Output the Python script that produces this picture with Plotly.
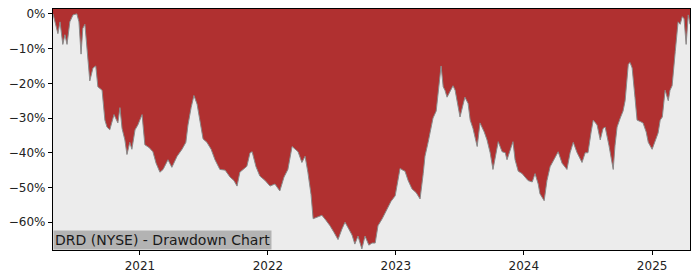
import plotly.graph_objects as go

dates = [
    "2020-04-28", "2020-05-03", "2020-05-12", "2020-05-18", "2020-05-26", "2020-06-01", "2020-06-07",
    "2020-06-15", "2020-06-24", "2020-07-05", "2020-07-11", "2020-07-17", "2020-07-22", "2020-07-28",
    "2020-08-03", "2020-08-11", "2020-08-20", "2020-08-28", "2020-09-03", "2020-09-15", "2020-09-23",
    "2020-09-29", "2020-10-07", "2020-10-19", "2020-10-30", "2020-11-05", "2020-11-11", "2020-11-19",
    "2020-11-25", "2020-12-03", "2020-12-09", "2020-12-18", "2020-12-26", "2021-01-07", "2021-01-15",
    "2021-01-27", "2021-02-07", "2021-02-16", "2021-02-27", "2021-03-08", "2021-03-22", "2021-04-02",
    "2021-04-17", "2021-05-01", "2021-05-12", "2021-05-18", "2021-05-27", "2021-06-04", "2021-06-13",
    "2021-06-21", "2021-06-30", "2021-07-11", "2021-07-23", "2021-08-03", "2021-08-17", "2021-09-01",
    "2021-09-15", "2021-09-26", "2021-10-05", "2021-10-13", "2021-10-25", "2021-11-02", "2021-11-11",
    "2021-11-17", "2021-11-28", "2021-12-09", "2021-12-24", "2022-01-07", "2022-01-21", "2022-02-04",
    "2022-02-16", "2022-02-27", "2022-03-11", "2022-03-19", "2022-03-28", "2022-04-08", "2022-04-17",
    "2022-04-25", "2022-05-04", "2022-05-10", "2022-05-21", "2022-06-04", "2022-06-16", "2022-06-27",
    "2022-07-09", "2022-07-20", "2022-07-31", "2022-08-09", "2022-08-20", "2022-08-29", "2022-09-06",
    "2022-09-15", "2022-09-26", "2022-10-05", "2022-10-16", "2022-10-25", "2022-11-03", "2022-11-11",
    "2022-11-23", "2022-12-07", "2022-12-18", "2022-12-30", "2023-01-07", "2023-01-13", "2023-01-21",
    "2023-01-27", "2023-02-05", "2023-02-16", "2023-02-28", "2023-03-11", "2023-03-20", "2023-03-25",
    "2023-04-03", "2023-04-09", "2023-04-17", "2023-04-26", "2023-05-01", "2023-05-10", "2023-05-16",
    "2023-05-21", "2023-05-27", "2023-06-05", "2023-06-13", "2023-06-19", "2023-06-25", "2023-07-03",
    "2023-07-12", "2023-07-17", "2023-07-26", "2023-08-01", "2023-08-09", "2023-08-21", "2023-08-29",
    "2023-09-10", "2023-09-18", "2023-09-27", "2023-10-05", "2023-10-14", "2023-10-20", "2023-10-31",
    "2023-11-09", "2023-11-14", "2023-11-23", "2023-12-01", "2023-12-07", "2023-12-16", "2023-12-27",
    "2024-01-05", "2024-01-13", "2024-01-25", "2024-02-02", "2024-02-11", "2024-02-16", "2024-02-28",
    "2024-03-07", "2024-03-16", "2024-03-27", "2024-04-08", "2024-04-19", "2024-05-03", "2024-05-12",
    "2024-05-21", "2024-06-01", "2024-06-15", "2024-06-24", "2024-07-02", "2024-07-11", "2024-07-17",
    "2024-07-28", "2024-08-06", "2024-08-14", "2024-08-20", "2024-08-31", "2024-09-12", "2024-09-17",
    "2024-09-23", "2024-10-02", "2024-10-10", "2024-10-16", "2024-10-25", "2024-10-30", "2024-11-05",
    "2024-11-13", "2024-11-19", "2024-11-28", "2024-12-06", "2024-12-15", "2024-12-21", "2025-01-01",
    "2025-01-10", "2025-01-18", "2025-01-24", "2025-01-30", "2025-02-07", "2025-02-16", "2025-02-21",
    "2025-02-27", "2025-03-08", "2025-03-16", "2025-03-22", "2025-03-28", "2025-04-02", "2025-04-08",
    "2025-04-14", "2025-04-19",
]

drawdown = [
    0, -2.3, -5.7, -2.3, -8.8, -6, -8.8,
    -2.3, -0.3, 0, -2.3, -11.6, -4.2, -3,
    -10.8, -19.3, -15.6, -15, -21, -22, -30.6,
    -32.6, -33.4, -29, -31.4, -27, -33, -36.3,
    -40.5, -37, -39, -33.4, -32, -29, -37.7,
    -38.5, -39.7, -43, -45.6, -44.8, -42, -44.2,
    -41, -39, -37, -32, -27, -23.5, -26,
    -30.6, -36, -37, -39, -42, -44.8, -45,
    -47, -48, -49.6, -45.6, -44.5, -43.9, -40,
    -39.7, -44, -46.7, -48, -49.6, -49, -51,
    -47, -44.8, -38.2, -39, -39.7, -42.8, -41,
    -45.6, -52, -59, -58.5, -58, -59.5, -61,
    -63, -65, -62, -60, -62, -63.7, -66.3,
    -64, -67.7, -64, -66.6, -66, -66, -61,
    -59, -56, -54, -52.4, -48, -44.5, -45,
    -45.3, -48, -50.4, -51.5, -53.3, -46, -41,
    -37, -34.3, -30, -28, -23, -15, -21,
    -22, -24, -22, -20.7, -22, -25, -29.7,
    -26, -24, -25.8, -30.6, -33, -38.2, -31.4,
    -34, -36.3, -40, -44.8, -40, -36.8, -39.7,
    -40, -42, -39, -36.8, -42, -45.3, -46,
    -47, -48, -48.4, -46, -49, -51.8, -53.8,
    -48, -44, -42, -39.7, -43, -44.8, -40,
    -37, -40, -42.8, -40, -40, -34, -30.6,
    -32, -36.3, -33, -32.6, -38, -44.8, -38,
    -32.6, -30, -28, -25, -14.5, -14, -15.6,
    -24, -30.6, -31, -31.4, -34, -37, -39,
    -36.3, -34.3, -30.6, -29.7, -22, -25, -22,
    -20.7, -10.8, -2.3, -3, -0.8, -1.4, -8.8,
    -0.3, -3,
]

y_tick_vals = [0, -10, -20, -30, -40, -50, -60]
y_tick_text = ["0%", "\u221210%", "\u221220%", "\u221230%", "\u221240%", "\u221250%", "\u221260%"]
x_tick_vals = ["2021-01-01", "2022-01-01", "2023-01-01", "2024-01-01", "2025-01-01"]
x_tick_text = ["2021", "2022", "2023", "2024", "2025"]
title_text = "DRD (NYSE) - Drawdown Chart"

Y_TOP = 1.4
Y_BOTTOM = -68.0
X_START = "2020-04-28"
X_END = "2025-04-19"

fig = go.Figure()
fig.add_trace(go.Scatter(
    x=[dates[0], dates[-1]], y=[Y_TOP, Y_TOP], mode="lines",
    line=dict(width=0, color="rgba(0,0,0,0)"), hoverinfo="skip", showlegend=False,
))
fig.add_trace(go.Scatter(
    x=dates, y=drawdown, mode="lines", fill="tonexty",
    fillcolor="#b03030", line=dict(color="#8a8a8a", width=1),
    showlegend=False,
))

fig.update_layout(
    width=700, height=280,
    margin=dict(l=53, r=10, t=7, b=28),
    paper_bgcolor="white", plot_bgcolor="#ececec",
    font=dict(family="DejaVu Sans", size=12, color="#222222"),
    annotations=[dict(
        text=title_text, xref="paper", yref="paper", x=0, y=0,
        xanchor="left", yanchor="bottom", showarrow=False,
        bgcolor="#b3b3b3", font=dict(family="DejaVu Sans", size=14, color="#1a1a1a"),
        borderpad=1,
    )],
)
fig.update_xaxes(
    range=[X_START, X_END], tickvals=x_tick_vals, ticktext=x_tick_text,
    showgrid=False, zeroline=False, showline=True, linecolor="black", linewidth=1.2,
    mirror=True, ticks="outside", ticklen=4, tickcolor="black",
)
fig.update_yaxes(
    range=[Y_BOTTOM, Y_TOP], tickvals=y_tick_vals, ticktext=y_tick_text,
    showgrid=False, zeroline=False, showline=True, linecolor="black", linewidth=1.2,
    mirror=True, ticks="outside", ticklen=4, tickcolor="black",
)

fig.write_html("out.html")
